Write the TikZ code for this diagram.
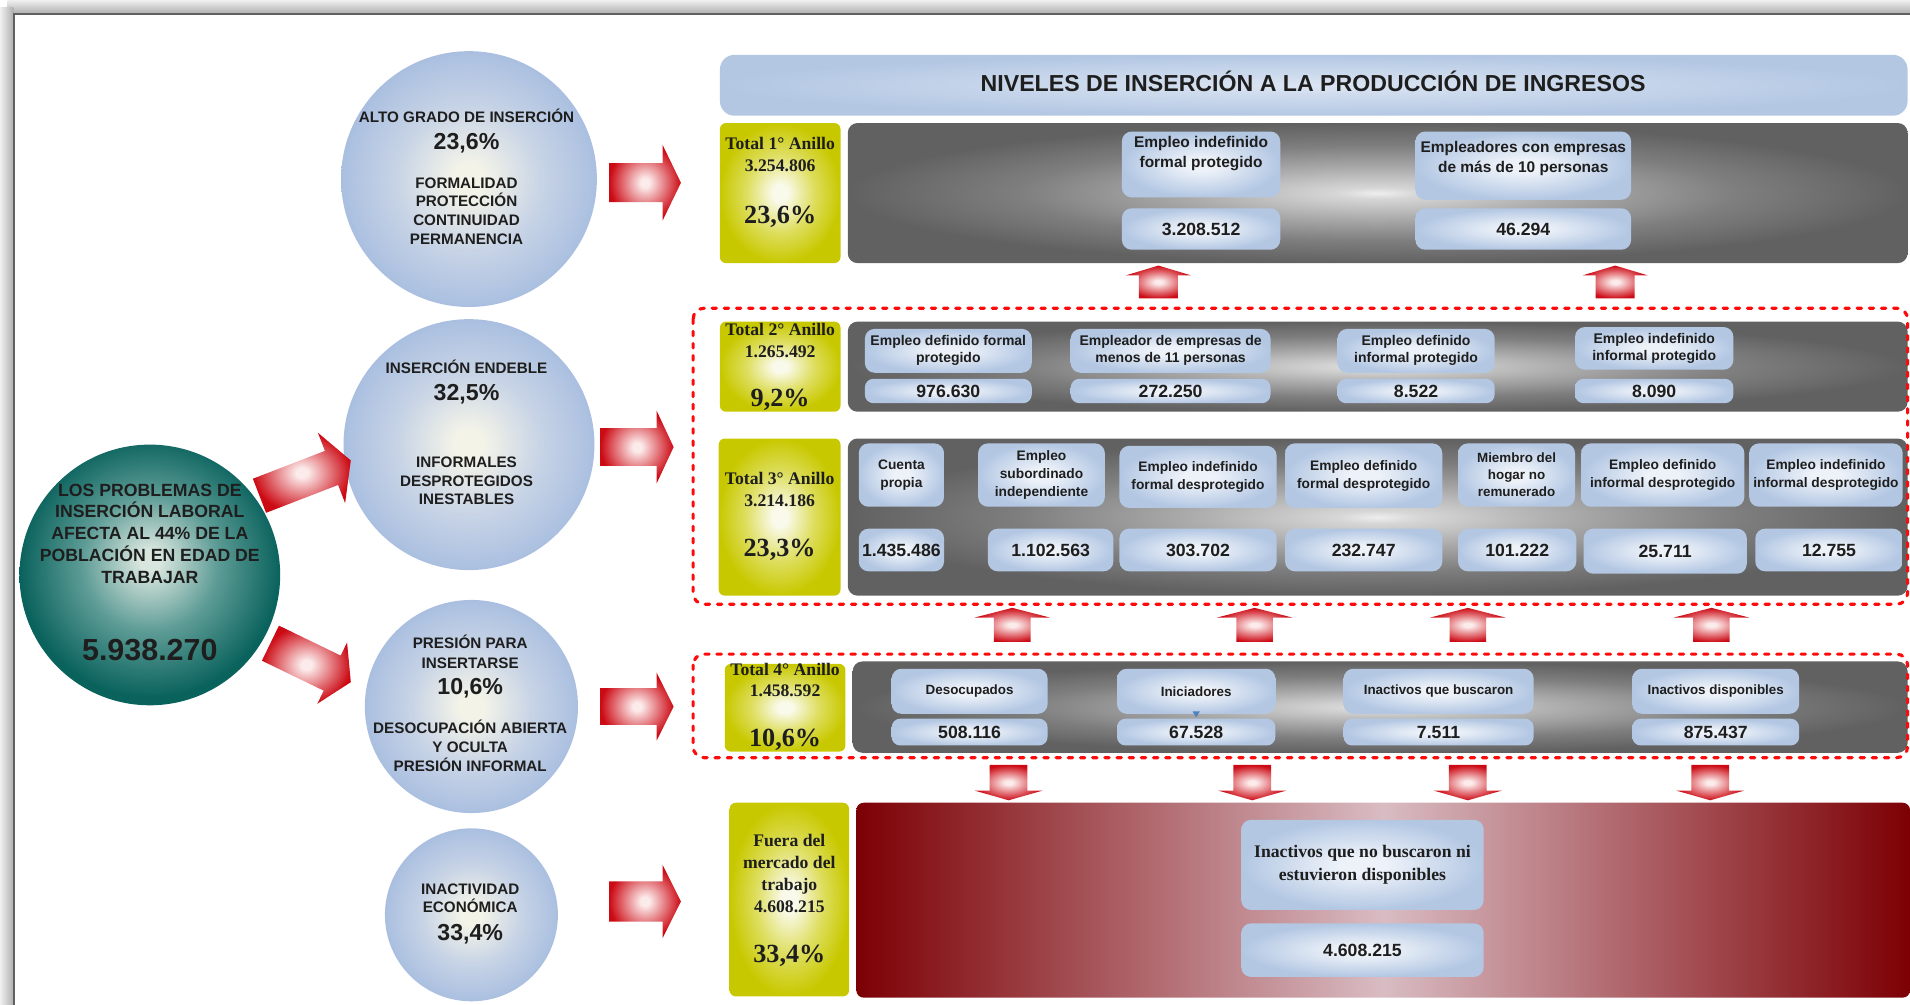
\documentclass[tikz,border=0pt]{standalone}
\usepackage{fontspec}
\setmainfont{Liberation Serif}
\setsansfont{Liberation Sans}
\usetikzlibrary{calc}
\definecolor{txtc}{HTML}{1E1E1E}
\definecolor{circO}{HTML}{AABFE0}
\definecolor{circM}{HTML}{C8D4E6}
\definecolor{circI}{HTML}{F3F3E8}
\definecolor{tealO}{HTML}{0A625D}
\definecolor{tealM}{HTML}{5E9C96}
\definecolor{tealI}{HTML}{D8E6DE}
\definecolor{yelO}{HTML}{C8C800}
\definecolor{yelM}{HTML}{DEDE60}
\definecolor{yelI}{HTML}{FAFAEC}
\definecolor{bluO}{HTML}{B3C7E3}
\definecolor{bluI}{HTML}{EDF2F9}
\definecolor{grayO}{HTML}{616161}
\definecolor{grayD}{HTML}{7E7E7E}
\definecolor{grayM}{HTML}{ABABAB}
\definecolor{grayL}{HTML}{D6D6D6}
\definecolor{grayI}{HTML}{EEEEEE}
\definecolor{redO}{HTML}{CC0A14}
\definecolor{redI}{HTML}{FCEBEB}
\definecolor{dred}{HTML}{7C0004}
\definecolor{pinkc}{HTML}{D9BCC3}
\definecolor{dashred}{HTML}{FF0A0A}
\definecolor{tinyblue}{HTML}{4F81BD}
\pgfdeclareradialshading{circsh}{\pgfpoint{0bp}{0bp}}{color(0bp)=(circI); color(3bp)=(circI); color(14bp)=(circM); color(25bp)=(circO); color(50bp)=(circO)}
\pgfdeclareradialshading{tealsh}{\pgfpoint{0bp}{3bp}}{color(0bp)=(tealI); color(2bp)=(tealI); color(13bp)=(tealM); color(25bp)=(tealO); color(50bp)=(tealO)}
\pgfdeclareradialshading{yelsh}{\pgfpoint{0bp}{0bp}}{color(0bp)=(yelI); color(3bp)=(yelI); color(14bp)=(yelM); color(25bp)=(yelO); color(50bp)=(yelO)}
\pgfdeclareradialshading{blush}{\pgfpoint{0bp}{0bp}}{color(0bp)=(bluI); color(5bp)=(bluI); color(25bp)=(bluO); color(50bp)=(bluO)}
\pgfdeclareradialshading{titsh}{\pgfpoint{0bp}{0bp}}{color(0bp)=(bluI!70!bluO); color(25bp)=(bluO); color(50bp)=(bluO)}
\pgfdeclareradialshading{graysh}{\pgfpoint{0bp}{0bp}}{color(0bp)=(grayI); color(2bp)=(grayL); color(9bp)=(grayM); color(17bp)=(grayD); color(25bp)=(grayO); color(50bp)=(grayO)}
\pgfdeclareradialshading{redsh}{\pgfpoint{0bp}{0bp}}{color(0bp)=(redI); color(3bp)=(redI); color(25bp)=(redO); color(50bp)=(redO)}
\newcommand\redarr[5]{%
  \coordinate (rah) at ($(#2)!#5!(#1)$);
  \shade[shading=redsh] ($(#1)!#3!90:(#2)$) -- ($(rah)!#3!90:(#2)$) -- ($(rah)!#4!90:(#2)$) -- (#2)
    -- ($(rah)!#4!-90:(#2)$) -- ($(rah)!#3!-90:(#2)$) -- ($(#1)!#3!-90:(#2)$) -- cycle;}
\begin{document}
\begin{tikzpicture}[x=1pt,y=-1pt,
  circ/.style={circle, shade, shading=circsh, inner sep=0pt},
  ybox/.style={rectangle, rounded corners=5pt, shade, shading=yelsh, inner sep=0pt},
  gbox/.style={rectangle, rounded corners=8pt, shade, shading=graysh, inner sep=0pt},
  bluebox/.style={rectangle, rounded corners=8pt, shade, shading=blush, inner sep=0pt, align=center, text=txtc},
  ctx/.style={inner sep=0pt, text=txtc, font=\sffamily\bfseries\fontsize{12.5pt}{15pt}\selectfont, text height=9pt, text depth=0pt},
  cpc/.style={inner sep=0pt, text=txtc, font=\sffamily\bfseries\fontsize{19pt}{22pt}\selectfont, text height=13.6pt, text depth=0pt},
  ttx/.style={inner sep=0pt, text=txtc, font=\sffamily\bfseries\fontsize{14.5pt}{17pt}\selectfont, text height=10.4pt, text depth=0pt},
  tnum/.style={inner sep=0pt, text=txtc, font=\sffamily\bfseries\fontsize{25pt}{28pt}\selectfont, text height=17.9pt, text depth=0pt},
  ytx/.style={inner sep=0pt, text=txtc, font=\rmfamily\bfseries\fontsize{14.5pt}{17pt}\selectfont, text height=9.6pt, text depth=0pt},
  ypc/.style={inner sep=0pt, text=txtc, font=\rmfamily\bfseries\fontsize{21.5pt}{24pt}\selectfont, text height=14.2pt, text depth=0pt},
  labA/.style={font=\sffamily\bfseries\fontsize{12.7pt}{16pt}\selectfont, align=center, text=txtc, inner sep=0pt},
  labB/.style={font=\sffamily\bfseries\fontsize{11.5pt}{14pt}\selectfont},
  labC/.style={font=\sffamily\bfseries\fontsize{11.3pt}{14.5pt}\selectfont},
  labD/.style={font=\sffamily\bfseries\fontsize{11pt}{14pt}\selectfont},
  labE/.style={font=\rmfamily\bfseries\fontsize{14.5pt}{19pt}\selectfont},
  valf/.style={font=\sffamily\bfseries\fontsize{14.5pt}{16pt}\selectfont},
  dashbox/.style={draw=dashred, line width=2.6pt, line cap=round, dash pattern=on 3.6pt off 6.4pt, rounded corners=9pt}
]
\useasboundingbox (0,0) rectangle (1568,825);
\clip (0,0) rectangle (1568,825);
% frame
\shade[top color=gray!12, bottom color=gray!62] (6,0) rectangle (1568,11);
\shade[left color=gray!12, right color=gray!62] (0,6) rectangle (11,825);
\draw[gray!75!black, line width=1.3pt] (11.5,825) -- (11.5,11.5) -- (1568,11.5);

% left circles
\node[circle, shade, shading=tealsh, minimum size=214pt] (tc) at (123,472) {};
\node[ttx] (tc1) at (123,402) {LOS PROBLEMAS DE};
\node[ttx] (tc2) at (123,420) {INSERCIÓN LABORAL};
\node[ttx] (tc3) at (123,438) {AFECTA AL 44\% DE LA};
\node[ttx] (tc4) at (123,456) {POBLACIÓN EN EDAD DE};
\node[ttx] (tc5) at (123,474) {TRABAJAR};
\node[tnum] (tc6) at (123,533) {5.938.270};

\node[circ, minimum size=210pt] (c1) at (385,147) {};
\node[ctx] (c1a) at (383,96) {ALTO GRADO DE INSERCIÓN};
\node[cpc] (c1b) at (383,116) {23,6\%};
\node[ctx] (c1c) at (383,150) {FORMALIDAD};
\node[ctx] (c1d) at (383,165) {PROTECCIÓN};
\node[ctx] (c1e) at (383,181) {CONTINUIDAD};
\node[ctx] (c1f) at (383,196) {PERMANENCIA};

\node[circ, minimum size=206pt] (c2) at (385,365) {};
\node[ctx] (c2a) at (383,302) {INSERCIÓN ENDEBLE};
\node[cpc] (c2b) at (383,322) {32,5\%};
\node[ctx] (c2c) at (383,379) {INFORMALES};
\node[ctx] (c2d) at (383,395) {DESPROTEGIDOS};
\node[ctx] (c2e) at (383,410) {INESTABLES};

\node[circ, minimum size=175pt] (c3) at (387,580) {};
\node[ctx] (c3a) at (386,528) {PRESIÓN PARA};
\node[ctx] (c3b) at (386,544) {INSERTARSE};
\node[cpc] (c3c) at (386,563) {10,6\%};
\node[ctx] (c3d) at (386,598) {DESOCUPACIÓN ABIERTA};
\node[ctx] (c3e) at (386,613) {Y OCULTA};
\node[ctx] (c3f) at (386,629) {PRESIÓN INFORMAL};

\node[circ, minimum size=142pt] (c4) at (387,751) {};
\node[ctx] (c4a) at (386,730) {INACTIVIDAD};
\node[ctx] (c4b) at (386,745) {ECONÓMICA};
\node[cpc] (c4c) at (386,765) {33,4\%};

% title
\node[rectangle, rounded corners=12pt, shade, shading=titsh, minimum width=975pt, minimum height=50pt, inner sep=0pt] (title) at (1078.5,70) {};
\node[inner sep=0pt, text=txtc, font=\sffamily\bfseries\fontsize{19pt}{22pt}\selectfont, text height=13.6pt, text depth=0pt] (titlet) at (1078,68)
      {NIVELES DE INSERCIÓN A LA PRODUCCIÓN DE INGRESOS};

% yellow boxes
\node[ybox, minimum width=99pt, minimum height=115pt] (y1) at (640.5,158.5) {};
\node[ybox, minimum width=99pt, minimum height=74pt] (y2) at (640.5,301) {};
\node[ybox, minimum width=100pt, minimum height=129pt] (y3) at (640,424.5) {};
\node[ybox, minimum width=99pt, minimum height=72pt] (y4) at (644.5,581) {};
\node[ybox, minimum width=98pt, minimum height=159pt] (y5) at (648,738.5) {};

\node[ytx] (y1a) at (640.5,118) {Total 1° Anillo};
\node[ytx] (y1b) at (640.5,136) {3.254.806};
\node[ypc] (y1c) at (640.5,176) {23,6\%};
\node[ytx] (y2a) at (640.5,271) {Total 2° Anillo};
\node[ytx] (y2b) at (640.5,289) {1.265.492};
\node[ypc] (y2c) at (640.5,327) {9,2\%};
\node[ytx] (y3a) at (640,393) {Total 3° Anillo};
\node[ytx] (y3b) at (640,411) {3.214.186};
\node[ypc] (y3c) at (640,450) {23,3\%};
\node[ytx] (y4a) at (644.5,550) {Total 4° Anillo};
\node[ytx] (y4b) at (644.5,567) {1.458.592};
\node[ypc] (y4c) at (644.5,606) {10,6\%};
\node[ytx] (y5a) at (648,690) {Fuera del};
\node[ytx] (y5b) at (648,708) {mercado del};
\node[ytx] (y5c) at (648,726) {trabajo};
\node[ytx] (y5d) at (648,744) {4.608.215};
\node[ypc] (y5e) at (648,783) {33,4\%};

% gray ring boxes
\node[gbox, minimum width=870pt, minimum height=115pt] (g1) at (1131,158.5) {};
\node[gbox, minimum width=870pt, minimum height=74pt] (g2) at (1131,301) {};
\node[gbox, minimum width=870pt, minimum height=129pt] (g3) at (1131,424.5) {};
\node[gbox, minimum width=866pt, minimum height=75pt] (g4) at (1133,580.5) {};
\node[rectangle, rounded corners=6pt, shade, left color=dred, right color=dred, middle color=pinkc,
      minimum width=865pt, minimum height=160pt, inner sep=0pt] (g5) at (1135.5,739) {};

% ring 1
\node[bluebox, minimum width=130pt, minimum height=54pt] (l11) at (986,135) {};
\node[labA] (l11t) at (986,126) {Empleo indefinido\\formal protegido};
\node[bluebox, valf, minimum width=130pt, minimum height=34pt] (v11) at (986,188) {3.208.512};
\node[bluebox, minimum width=177pt, minimum height=56pt] (l12) at (1250.5,136) {};
\node[labA] (l12t) at (1250.5,130) {Empleadores con empresas\\de más de 10 personas};
\node[bluebox, valf, minimum width=177pt, minimum height=34pt] (v12) at (1250.5,188) {46.294};

% ring 2
\node[bluebox, labB, minimum width=137pt, minimum height=36pt] (l21) at (778.5,288) {Empleo definido formal\\protegido};
\node[bluebox, valf, rounded corners=7pt, minimum width=137pt, minimum height=20pt] (v21) at (778.5,321) {976.630};
\node[bluebox, labB, minimum width=164pt, minimum height=36pt] (l22) at (961,288) {Empleador de empresas de\\menos de 11 personas};
\node[bluebox, valf, rounded corners=7pt, minimum width=164pt, minimum height=20pt] (v22) at (961,321) {272.250};
\node[bluebox, labB, minimum width=129pt, minimum height=36pt] (l23) at (1162.5,288) {Empleo definido\\informal protegido};
\node[bluebox, valf, rounded corners=7pt, minimum width=129pt, minimum height=20pt] (v23) at (1162.5,321) {8.522};
\node[bluebox, labB, minimum width=130pt, minimum height=35pt] (l24) at (1358,286) {Empleo indefinido\\informal protegido};
\node[bluebox, valf, rounded corners=7pt, minimum width=130pt, minimum height=20pt] (v24) at (1358,321) {8.090};

% ring 3
\node[bluebox, labC, minimum width=70pt, minimum height=52pt] (l31) at (740,390) {Cuenta\\propia};
\node[bluebox, valf, minimum width=70pt, minimum height=35pt] (v31) at (740,451.5) {1.435.486};
\node[bluebox, labC, minimum width=104pt, minimum height=52pt] (l32) at (855,390) {Empleo\\subordinado\\independiente};
\node[bluebox, valf, minimum width=103pt, minimum height=35pt] (v32) at (862.5,451.5) {1.102.563};
\node[bluebox, labC, minimum width=129pt, minimum height=51pt] (l33) at (983.5,391.5) {Empleo indefinido\\formal desprotegido};
\node[bluebox, valf, minimum width=129pt, minimum height=35pt] (v33) at (983.5,451.5) {303.702};
\node[bluebox, labC, minimum width=129pt, minimum height=53pt] (l34) at (1119.5,390.5) {Empleo definido\\formal desprotegido};
\node[bluebox, valf, minimum width=129pt, minimum height=35pt] (v34) at (1119.5,451.5) {232.747};
\node[bluebox, labD, minimum width=96pt, minimum height=52pt] (l35) at (1245,390) {Miembro del\\hogar no\\remunerado};
\node[bluebox, valf, minimum width=97pt, minimum height=35pt] (v35) at (1245.5,451.5) {101.222};
\node[bluebox, labC, minimum width=134pt, minimum height=52pt] (l36) at (1365,390) {Empleo definido\\informal desprotegido};
\node[bluebox, valf, minimum width=134pt, minimum height=37pt] (v36) at (1367,452.5) {25.711};
\node[bluebox, labC, minimum width=126pt, minimum height=52pt] (l37) at (1499,390) {Empleo indefinido\\informal desprotegido};
\node[bluebox, valf, minimum width=121pt, minimum height=35pt] (v37) at (1501.5,451.5) {12.755};

% ring 4
\node[bluebox, labD, minimum width=128pt, minimum height=37pt] (l41) at (796,567.5) {Desocupados};
\node[bluebox, valf, rounded corners=7pt, minimum width=128pt, minimum height=22pt] (v41) at (796,601) {508.116};
\node[bluebox, labD, minimum width=130pt, minimum height=37pt] (l42) at (982,567.5) {Iniciadores};
\node[bluebox, valf, rounded corners=7pt, minimum width=130pt, minimum height=22pt] (v42) at (982,601) {67.528};
\node[bluebox, labD, minimum width=156pt, minimum height=37pt] (l43) at (1181,567.5) {Inactivos que buscaron};
\node[bluebox, valf, rounded corners=7pt, minimum width=156pt, minimum height=22pt] (v43) at (1181,601) {7.511};
\node[bluebox, labD, minimum width=137pt, minimum height=37pt] (l44) at (1408.5,567.5) {Inactivos disponibles};
\node[bluebox, valf, rounded corners=7pt, minimum width=137pt, minimum height=22pt] (v44) at (1408.5,601) {875.437};
\fill[tinyblue] (979,584) -- (985,584) -- (982,589) -- cycle;

% outside
\node[bluebox, labE, minimum width=199pt, minimum height=74pt] (l51) at (1118.5,710) {Inactivos que no buscaron ni\\estuvieron disponibles};
\node[bluebox, valf, minimum width=199pt, minimum height=44pt] (v51) at (1118.5,780) {4.608.215};

% dashed groupings
\draw[dashbox] (569,253) rectangle (1566,496);
\draw[dashbox] (569,537) rectangle (1566,622);

% diagonal arrows from the main circle
\coordinate (d1s) at (213,407); \coordinate (d1e) at (288,378);
\coordinate (d2s) at (222,528); \coordinate (d2e) at (288,560);
\redarr{d1s}{d1e}{15pt}{31pt}{17pt}
\redarr{d2s}{d2e}{16pt}{28pt}{17pt}
% horizontal arrows
\coordinate (a1s) at (500,150); \coordinate (a1e) at (559,150);
\coordinate (a2s) at (493,367); \coordinate (a2e) at (553,367);
\coordinate (a3s) at (493,580); \coordinate (a3e) at (553,580);
\coordinate (a4s) at (500,740); \coordinate (a4e) at (559,740);
\redarr{a1s}{a1e}{16pt}{31pt}{15pt}
\redarr{a2s}{a2e}{15.5pt}{30pt}{14pt}
\redarr{a3s}{a3e}{15pt}{28pt}{14pt}
\redarr{a4s}{a4e}{16.5pt}{30pt}{15pt}
% up arrows ring 2 -> ring 1
\coordinate (u1s) at (951,245); \coordinate (u1e) at (951,218);
\coordinate (u2s) at (1326,245); \coordinate (u2e) at (1326,218);
\redarr{u1s}{u1e}{16pt}{26.5pt}{8pt}
\redarr{u2s}{u2e}{16pt}{26.5pt}{8pt}
% up arrows ring 4 -> ring 3
\foreach \cx [count=\i] in {831,1030,1205,1405}{
  \coordinate (w\i s) at (\cx,527); \coordinate (w\i e) at (\cx,499);
  \redarr{w\i s}{w\i e}{15pt}{31pt}{8pt}
}
% down arrows ring 4 -> outside
\foreach \cx [count=\i] in {828,1028,1205,1404}{
  \coordinate (z\i s) at (\cx,628); \coordinate (z\i e) at (\cx,657);
  \redarr{z\i s}{z\i e}{15.5pt}{28pt}{8pt}
}
\end{tikzpicture}
\end{document}
